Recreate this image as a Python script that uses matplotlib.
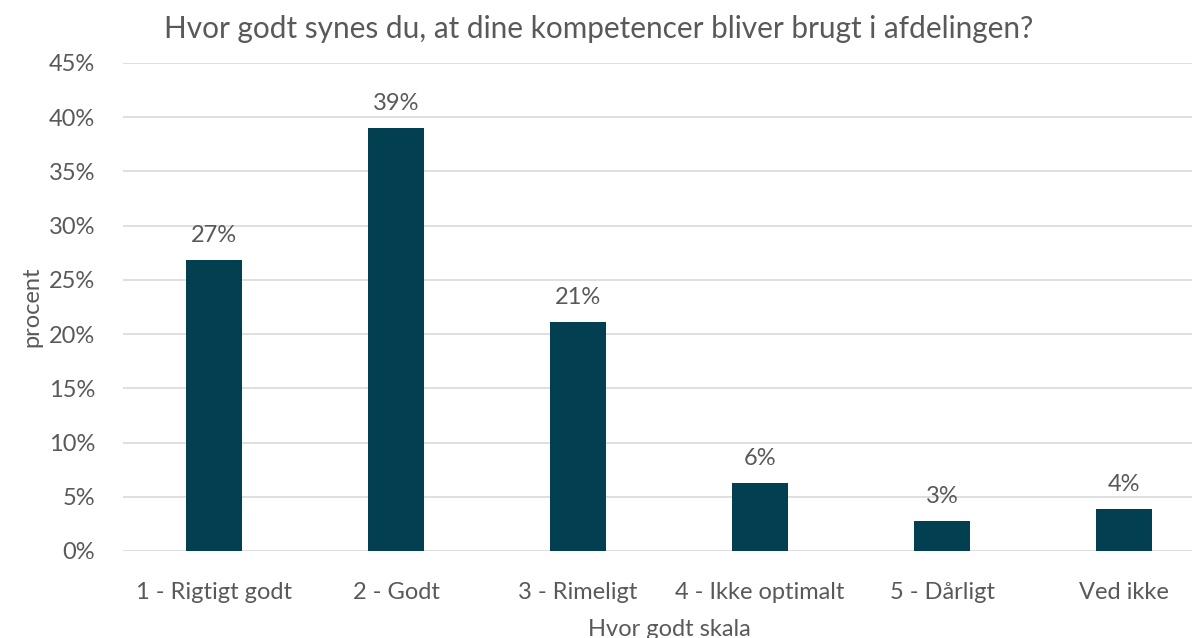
import matplotlib.pyplot as plt
import numpy as np

categories = ['1 - Rigtigt godt', '2 - Godt', '3 - Rimeligt', '4 - Ikke optimalt', '5 - Dårligt', 'Ved ikke']
values = [26.8, 39.0, 21.1, 6.3, 2.8, 3.9]
yticks = [0, 5, 10, 15, 20, 25, 30, 35, 40, 45]

plt.rcParams['font.family'] = ['Lato', 'DejaVu Sans']
grey = '#595959'

fig = plt.figure(figsize=(11.92, 6.38), dpi=100)
# plot area runs slightly past the right edge, as in the original
ax = fig.add_axes([0.1032, 0.1364, 0.9161, 0.7649])

x = np.arange(len(categories))
ax.bar(x, values, width=0.31, color='#023F51', zorder=3)
for xi, v in zip(x, values):
    ax.text(xi, v + 1.3, f'{v:.0f}%', ha='center', va='bottom', fontsize=17, color=grey)

ax.set_xlim(-0.5, len(categories) - 0.5)
ax.set_ylim(0, 45)
ax.set_yticks(yticks)
ax.set_yticklabels([f'{t}%' for t in yticks])
ax.set_xticks(x)
ax.set_xticklabels(categories)
ax.tick_params(axis='both', length=0, labelsize=17, labelcolor=grey)
ax.tick_params(axis='x', pad=22)
ax.tick_params(axis='y', pad=20)
ax.grid(axis='y', color='#D9D9D9', linewidth=1.2, zorder=0)
for s in ax.spines.values():
    s.set_visible(False)

ax.set_ylabel('procent', fontsize=17, color=grey)
ax.yaxis.set_label_coords(-0.074, 0.5)
ax.set_xlabel('Hvor godt skala', fontsize=17, color=grey, labelpad=12)
fig.text(0.502, 0.955, 'Hvor godt synes du, at dine kompetencer bliver brugt i afdelingen?',
         ha='center', va='center', fontsize=21.4, color=grey)

fig.savefig('out.png', dpi=100)
